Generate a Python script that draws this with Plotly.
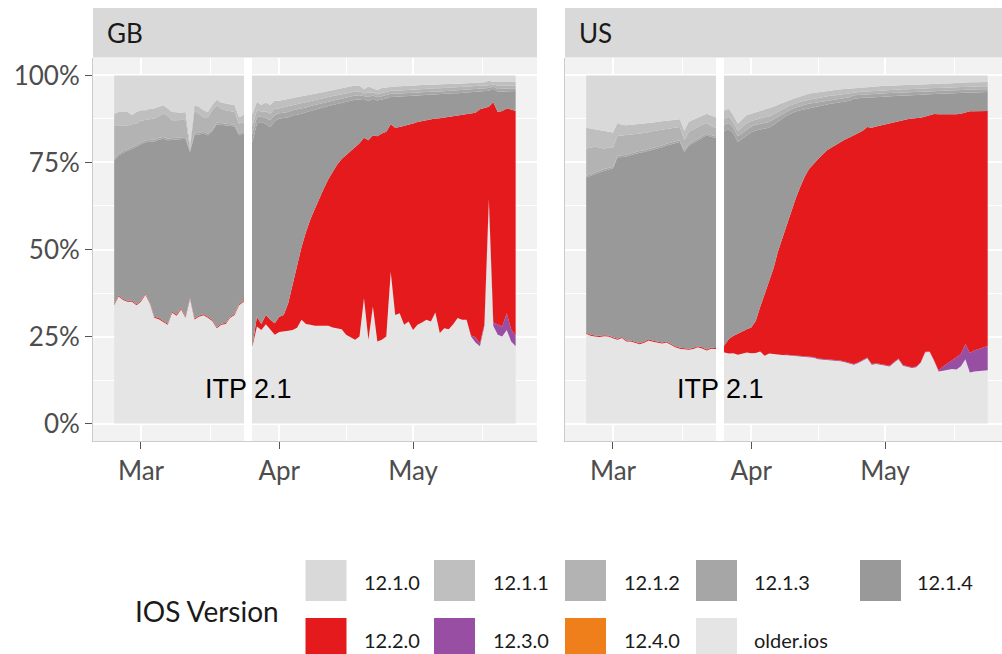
import plotly.graph_objects as go
import pandas as pd

# ---------------- data (share of sessions, %) ----------------
dates = pd.date_range("2019-02-23", "2019-05-24", freq="D")  # 91 days
itp_date = "2019-03-25"

series_names = ["older.ios", "12.4.0", "12.3.0", "12.2.0", "12.1.4", "12.1.3", "12.1.2", "12.1.1", "12.1.0"]
series_colors = ["#e5e5e5", "#ef7f1a", "#984ea3", "#e41a1c", "#999999", "#a6a6a6", "#b3b3b3", "#bfbfbf", "#d9d9d9"]
legend_order = ["12.1.0", "12.1.1", "12.1.2", "12.1.3", "12.1.4", "12.2.0", "12.3.0", "12.4.0", "older.ios"]

gb_older = [34, 36.5, 35.5, 35, 35, 34, 35, 37, 34.5, 30.4,
            30, 29.3, 28.4, 31.8, 31, 32.8, 30.4, 35.8, 29.9, 30.7,
            31.1, 30.4, 29.5, 27.4, 28.4, 28.6, 30.4, 31.2, 34, 35,
            30,
            22.2, 27.9, 26.9, 28.5, 27, 25.5, 26.3, 26.6, 26.7, 26.9,
            27.5, 29.8, 28.6, 28.4, 28.1, 28.1, 28.2, 28.1, 27.6, 27.3,
            27.1, 25.5, 24.8, 24.1, 25, 36, 24.1, 33.6, 23.6, 24.1,
            25, 43.6, 31.2, 31.7, 28.4, 29.3, 26.9, 28.4, 29, 29.8,
            29.3, 31.9, 26, 27.4, 27.1, 28.5, 30.3, 29.8, 29.8, 25,
            23.3, 22.2, 28, 64, 28, 25.5, 25, 26.9, 23.6, 22.2]
gb_v1240 = [0] * 91
gb_v1230 = [0] * 80 + [0.3, 1.5, 0.8, 0.5, 0.6, 1.0, 2.9, 2.9, 4.8, 3.5, 3.0]
gb_v1220 = [0.3] * 30 + [0.5,
            0.3, 2.8, 1.7, 2.7, 2.8, 3.3, 4.4, 4.6, 7.8, 13.0,
            18.1, 20.9, 26.4, 30.3, 33.6, 36.7, 39.3, 42.1, 44.9, 47.1,
            48.9, 51.6, 53.4, 55.3, 55.5, 46.1, 57.3, 49.2, 58.9, 59.2,
            58.8, 42.4, 53.8, 53.5, 57.1, 56.4, 59.3, 58.2, 57.9, 57.3,
            58.1, 55.7, 61.7, 60.5, 61.0, 59.8, 58.2, 58.9, 59.2, 63.8,
            64.5, 67.3, 62.1, 26.4, 63.3, 61.1, 61.9, 58.8, 63.1, 64.6]
gb_v1214 = [41.3, 40.2, 42.0, 43.0, 43.5, 45.2, 44.9, 43.5, 46.2, 50.3,
            51.2, 52.2, 52.7, 49.4, 50.2, 48.7, 51.1, 41.9, 52.6, 52.0,
            51.9, 52.1, 54.2, 58.3, 57.1, 56.6, 54.7, 53.8, 48.5, 48.0,
            52,
            58.4, 55.5, 58.0, 54.8, 55.4, 58.0, 56.9, 56.6, 53.5, 48.6,
            43.1, 38.3, 34.4, 31.1, 28.5, 25.7, 23.4, 21.0, 19.0, 17.4,
            16.2, 15.4, 14.6, 13.6, 12.6, 11.1, 11.2, 10.5, 10.3, 9.7,
            9.6, 7.8, 8.8, 8.7, 8.5, 8.4, 8.0, 7.6, 7.4, 7.3,
            7.1, 7.0, 6.9, 6.8, 6.7, 6.6, 6.4, 6.3, 6.1, 6.1,
            6.0, 5.1, 4.9, 4.6, 3.9, 5.8, 5.6, 5.0, 5.3, 5.7]
gb_v1213 = [0.5] * 30 + [0.8,
            2.4, 1.9, 1.5, 1.8, 1.9, 1.8, 1.5, 1.5, 1.5, 1.5,
            1.5, 1.5, 1.4, 1.4, 1.3, 1.3, 1.3, 1.3, 1.3, 1.2,
            1.2, 1.2, 1.2, 1.2, 1.2, 0.8, 1.2, 0.9, 0.9, 1.0,
            1.0, 0.9, 0.9, 0.9, 0.9, 0.9, 0.9, 0.9, 0.9, 0.9,
            0.8, 0.8, 0.8, 0.8, 0.8, 0.8, 0.8, 0.8, 0.8, 0.8,
            0.8, 0.8, 0.7, 0.8, 0.6, 0.8, 0.8, 0.8, 0.8, 0.8]
gb_v1212 = [9.6, 8.2, 7.4, 6.8, 6.7, 6.2, 6.3, 5.9, 6.1, 6.1,
            6.3, 6.7, 6.6, 5.1, 5.1, 4.8, 5.0, 0.5, 6.7, 5.5,
            4.2, 4.7, 5.5, 4.9, 4.2, 4.0, 3.9, 3.7, 2.9, 2.7,
            3.5,
            2.4, 1.9, 1.5, 1.8, 1.9, 1.8, 1.5, 1.6, 1.6, 1.5,
            1.5, 1.5, 1.4, 1.4, 1.4, 1.4, 1.3, 1.3, 1.3, 1.3,
            1.2, 1.2, 1.2, 1.2, 1.1, 0.8, 1.3, 0.9, 0.9, 1.0,
            0.9, 0.9, 0.9, 0.9, 0.9, 0.9, 0.9, 0.9, 0.9, 0.9,
            0.9, 0.9, 0.9, 0.9, 0.8, 0.8, 0.8, 0.8, 0.8, 0.8,
            0.8, 0.8, 0.8, 0.9, 0.6, 0.9, 0.8, 0.8, 0.8, 0.8]
gb_v1211 = [3.3, 3.8, 3.8, 3.9, 2.6, 3.3, 3.0, 2.8, 2.8, 2.9,
            2.7, 2.4, 2.0, 2.4, 2.3, 2.2, 2.2, 1.5, 1.4, 2.0,
            2.0, 1.5, 1.5, 1.6, 1.7, 2.0, 1.9, 1.9, 1.8, 2.1,
            2.5,
            3.3, 2.4, 1.9, 2.6, 2.5, 2.4, 2.1, 2.1, 2.1, 2.0,
            2.0, 2.0, 2.0, 1.8, 1.8, 1.8, 1.7, 1.7, 1.7, 1.7,
            1.7, 1.7, 1.6, 1.7, 1.6, 1.2, 1.7, 1.1, 1.2, 1.4,
            1.3, 1.2, 1.2, 1.2, 1.2, 1.1, 1.1, 1.1, 1.1, 1.1,
            1.1, 1.1, 1.1, 1.1, 1.1, 1.1, 1.1, 1.1, 1.0, 1.0,
            1.0, 1.0, 1.0, 1.2, 0.7, 1.1, 1.1, 1.0, 1.0, 1.0]
gb_v1210 = [11.0, 10.5, 10.5, 10.5, 11.4, 10.5, 10.0, 10.0, 9.6, 9.5,
            9.0, 8.6, 9.5, 10.5, 10.6, 10.7, 10.5, 19.5, 8.6, 9.0,
            10.0, 10.5, 8.5, 7.0, 7.8, 8.0, 8.3, 8.6, 12.0, 11.4,
            10.7,
            11.0, 7.6, 8.5, 7.8, 8.5, 7.2, 7.3, 7.0, 6.8, 6.5,
            6.3, 6.0, 5.8, 5.6, 5.3, 5.0, 4.8, 4.5, 4.2, 4.0,
            3.7, 3.4, 3.2, 2.9, 3.0, 4.0, 3.2, 3.8, 4.2, 3.6,
            3.4, 3.2, 3.2, 3.1, 3.0, 3.0, 2.9, 2.9, 2.8, 2.7,
            2.7, 2.6, 2.6, 2.5, 2.5, 2.4, 2.4, 2.3, 2.3, 2.2,
            2.1, 2.0, 2.0, 1.5, 1.9, 1.9, 1.9, 1.9, 1.9, 1.9]

us_older = [25.8, 25.2, 25.0, 24.9, 25.1, 25.0, 24.5, 24.1, 24.6, 23.6,
            23.6, 23.3, 22.8, 23.2, 23.9, 23.5, 23.3, 23.0, 23.3, 22.5,
            21.9, 21.5, 21.3, 21.2, 21.4, 21.9, 21.6, 21.0, 21.5, 21.4,
            21.0,
            20.4, 20.1, 20.2, 19.8, 20.1, 20.4, 20.2, 20.3, 20.7, 19.5,
            20.1, 19.9, 19.8, 19.7, 19.6, 19.5, 19.4, 19.3, 19.3, 19.2,
            18.9, 18.5, 18.4, 18.3, 18.2, 18.1, 17.9, 17.6, 17.2, 16.9,
            17.4, 18.2, 18.8, 16.9, 17.1, 16.9, 16.7, 16.4, 17.5, 18.5,
            16.6, 16.3, 16.0, 16.2, 17.5, 20.5, 20.6, 18.0, 15.0, 15.2,
            15.4, 15.7, 15.6, 16.5, 18.5, 14.7, 15.0, 15.1, 15.2, 15.3]
us_v1240 = [0] * 91
us_v1230 = [0] * 45 + [0.2] * 34 + [0.3, 1.2, 2.0, 2.6, 3.5, 3.5, 4.4, 5.6, 6.0, 6.3, 6.7, 7.0]
us_v1220 = [0.3] * 30 + [1.0,
            2.1, 4.2, 5.0, 6.0, 6.4, 6.7, 7.4, 9.2, 12.8, 17.5,
            20.9, 24.7, 29.7, 33.8, 37.7, 41.5, 45.2, 48.5, 51.5, 53.8,
            55.6, 57.3, 58.7, 60.0, 60.9, 61.8, 62.8, 63.8, 64.8, 65.7,
            65.9, 65.6, 66.2, 67.9, 68.0, 68.5, 69.1, 69.8, 69.0, 68.4,
            70.5, 71.0, 71.5, 71.5, 70.3, 67.7, 68.0, 71.0, 73.8, 72.6,
            71.6, 70.7, 70.0, 69.2, 66.6, 69.5, 68.8, 68.4, 67.9, 67.5]
us_v1214 = [44.6, 45.7, 46.5, 47.0, 47.2, 47.6, 48.5, 52.0, 51.6, 52.8,
            53.2, 53.9, 54.7, 54.5, 54.1, 54.9, 55.4, 56.1, 56.3, 57.4,
            58.4, 59.1, 56.4, 58.3, 58.9, 59.2, 60.1, 61.5, 60.6, 60.3,
            60.5,
            61.7, 60.2, 58.1, 55.1, 55.3, 55.7, 56.1, 54.7, 50.9, 47.6,
            44.0, 41.2, 37.1, 34.1, 31.0, 27.9, 24.8, 22.0, 19.3, 17.4,
            16.2, 15.1, 14.1, 13.2, 12.6, 12.0, 11.4, 10.9, 10.5, 10.5,
            9.9, 9.5, 8.4, 8.7, 8.5, 8.3, 7.9, 7.6, 7.4, 7.1,
            6.9, 6.8, 6.7, 6.6, 6.6, 6.3, 6.0, 5.7, 5.9, 6.0,
            6.1, 6.1, 6.1, 6.0, 5.7, 5.4, 5.4, 5.4, 5.4, 5.4]
us_v1213 = [0.5] * 30 + [0.8,
            1.7, 1.8, 1.6, 1.6, 1.7, 1.7, 1.6, 1.6, 1.6, 1.7,
            1.6, 1.6, 1.5, 1.4, 1.2, 1.2, 1.2, 1.2, 1.2, 1.3,
            1.2, 1.2, 1.2, 1.2, 1.2, 1.1, 1.1, 1.1, 1.0, 1.0,
            0.9, 0.9, 0.9, 0.9, 0.9, 0.9, 0.9, 0.9, 0.9, 0.9,
            0.9, 0.9, 0.9, 0.9, 0.9, 0.9, 0.9, 0.9, 0.8, 0.8,
            0.8, 0.8, 0.8, 0.8, 0.8, 0.8, 0.8, 0.8, 0.8, 0.8]
us_v1212 = [7.8, 7.6, 7.2, 6.6, 5.9, 5.8, 5.5, 5.7, 5.8, 5.8,
            5.5, 5.2, 5.0, 4.9, 4.9, 4.8, 4.7, 4.5, 4.2, 4.1,
            3.9, 3.8, 2.9, 3.5, 3.4, 3.3, 3.3, 3.0, 2.6, 2.5,
            2.5,
            1.8, 1.8, 1.5, 1.6, 1.7, 1.8, 1.6, 1.5, 1.6, 1.7,
            1.6, 1.5, 1.5, 1.4, 1.2, 1.2, 1.2, 1.2, 1.2, 1.2,
            1.2, 1.2, 1.2, 1.1, 1.1, 1.1, 1.1, 1.1, 1.1, 0.9] + [0.9] * 30
us_v1211 = [6.0, 5.5, 5.0, 5.0, 5.0, 4.6, 4.3, 3.7, 3.0, 2.7,
            2.7, 2.8, 2.8, 2.8, 2.6, 2.5, 2.5, 2.5, 2.5, 2.4,
            2.3, 2.2, 2.7, 2.9, 2.8, 2.6, 2.5, 2.7, 3.0, 3.0,
            3.0,
            2.3, 2.3, 2.1, 2.1, 2.3, 2.3, 2.1, 2.1, 2.2, 2.2,
            2.2, 2.1, 2.0, 1.8, 1.7, 1.6, 1.6, 1.7, 1.7, 1.7,
            1.7, 1.7, 1.6, 1.6, 1.6, 1.6, 1.5, 1.4, 1.4, 1.3,
            1.3, 1.3, 1.3, 1.3, 1.3, 1.2, 1.2, 1.2, 1.2, 1.2] + [1.2] * 20
us_v1210 = [15.0, 15.2, 15.5, 15.7, 16.0, 16.2, 16.4, 13.7, 14.2, 14.3,
            14.2, 14.0, 13.9, 13.8, 13.7, 13.5, 13.3, 13.1, 12.9, 12.8,
            12.7, 12.6, 15.9, 13.3, 12.7, 12.2, 11.7, 11.0, 11.5, 12.0,
            11.2,
            10.0, 9.6, 11.5, 13.8, 12.5, 11.4, 11.0, 10.6, 10.2, 9.8,
            9.6, 9.0, 8.4, 7.8, 7.4, 6.9, 6.4, 5.9, 5.6, 5.2,
            5.0, 4.8, 4.6, 4.4, 4.2, 4.1, 4.0, 3.9, 3.8, 3.5,
            3.4, 3.3, 3.3, 3.2, 3.1, 3.1, 3.0, 3.0, 2.9, 2.9,
            2.8, 2.8, 2.7, 2.7, 2.6, 2.5, 2.5, 2.4, 2.4, 2.3,
            2.3, 2.2, 2.2, 2.1, 2.1, 2.0, 2.0, 1.9, 1.9, 1.9]

y_tick_vals = [0, 25, 50, 75, 100]
y_tick_text = ["0%", "25%", "50%", "75%", "100%"]
x_tick_vals = ["2019-03-01", "2019-04-01", "2019-05-01"]
x_tick_text = ["Mar", "Apr", "May"]
x_minor_vals = ["2019-03-16 12:00", "2019-04-16", "2019-05-16 12:00"]

countries = {
    "GB": [gb_older, gb_v1240, gb_v1230, gb_v1220, gb_v1214, gb_v1213, gb_v1212, gb_v1211, gb_v1210],
    "US": [us_older, us_v1240, us_v1230, us_v1220, us_v1214, us_v1213, us_v1212, us_v1211, us_v1210],
}

# ---------------- layout geometry (pixels) ----------------
W, H = 1002, 654
ML, MT, MB = 93, 58, 213
PW, PH = W - ML, H - MT - MB


def px_x(p):
    return (p - ML) / PW


def px_y(p):
    return (H - MB - p) / PH


fig = go.Figure()
axes = {"GB": ("x", "y"), "US": ("x2", "y2")}
for country, vals in countries.items():
    xa, ya = axes[country]
    for k, (name, col, v) in enumerate(zip(series_names, series_colors, vals)):
        fig.add_trace(go.Scatter(
            x=dates, y=v, name=name, mode="lines",
            line=dict(width=0, color=col), fillcolor=col,
            stackgroup=country, groupnorm="percent" if k == 0 else None,
            xaxis=xa, yaxis=ya, showlegend=False, hoverinfo="skip",
        ))

font_main = "Lato, 'Open Sans', sans-serif"
common_x = dict(
    type="date", tickvals=x_tick_vals, ticktext=x_tick_text,
    showgrid=True, gridcolor="white", gridwidth=1.6,
    minor=dict(tickvals=x_minor_vals, showgrid=True, gridcolor="white", gridwidth=0.8),
    showline=True, linecolor="#cccccc", linewidth=1,
    ticks="outside", ticklen=7, tickcolor="#555555",
    tickfont=dict(family=font_main, size=26, color="#4d4d4d"),
    zeroline=False, fixedrange=True,
)
common_y = dict(
    range=[-5, 105], tickvals=y_tick_vals, ticktext=y_tick_text,
    showgrid=True, gridcolor="white", gridwidth=1.6,
    minor=dict(tickvals=[12.5, 37.5, 62.5, 87.5], showgrid=True, gridcolor="white", gridwidth=0.8),
    showline=True, linecolor="#cccccc", linewidth=1,
    zeroline=False, fixedrange=True,
)

gb_w = 444
fig.update_layout(
    width=W, height=H,
    margin=dict(l=ML, r=0, t=MT, b=MB, pad=0),
    paper_bgcolor="white", plot_bgcolor="#f2f2f2",
    showlegend=False,
    xaxis=dict(common_x, domain=[0, gb_w / PW],
               range=["2019-02-18 06:00", "2019-05-28 19:00"]),
    xaxis2=dict(common_x, domain=[px_x(565), 1],
                range=["2019-02-18 06:00", "2019-05-27 05:00"]),
    yaxis=dict(common_y, domain=[0, 1], anchor="x",
               ticks="outside", ticklen=7, tickcolor="#555555",
               tickfont=dict(family=font_main, size=26, color="#4d4d4d")),
    yaxis2=dict(common_y, domain=[0, 1], anchor="x2", showticklabels=False, ticks=""),
)

shapes = []
annotations = []
# facet strips
for country, (x0p, x1p) in {"GB": (93, 537), "US": (565, 1010)}.items():
    shapes.append(dict(type="rect", xref="paper", yref="paper",
                       x0=px_x(x0p), x1=min(px_x(x1p), 1.02), y0=px_y(57.5), y1=px_y(8),
                       fillcolor="#d9d9d9", line=dict(width=0), layer="below"))
    annotations.append(dict(xref="paper", yref="paper", x=px_x(x0p + 12), y=px_y(33),
                            text=country, showarrow=False, xanchor="left", yanchor="middle",
                            font=dict(family=font_main, size=26, color="#1a1a1a")))

# ITP 2.1 marker line and label in both panels
for xa, ya in [("x", "y"), ("x2", "y2")]:
    shapes.append(dict(type="line", xref=xa, yref=ya + " domain", x0=itp_date, x1=itp_date,
                       y0=0, y1=1, line=dict(color="white", width=8), layer="above"))
    annotations.append(dict(xref=xa, yref=ya, x=itp_date, y=10, text="ITP 2.1",
                            showarrow=False, xanchor="center", yanchor="middle",
                            font=dict(family="'Liberation Sans', Arial, sans-serif", size=27, color="black")))

# legend (drawn manually, ggplot style 2 rows x 5 columns)
color_of = dict(zip(series_names, series_colors))
key_lefts = [305.5, 434, 565, 696, 860]
label_lefts = [361.5, 491, 621.5, 752, 915]
row_tops = [560, 618]
for idx, name in enumerate(legend_order):
    r, c = divmod(idx, 5)
    top = row_tops[r]
    shapes.append(dict(type="rect", xref="paper", yref="paper",
                       x0=px_x(key_lefts[c]), x1=px_x(key_lefts[c] + 41),
                       y0=px_y(top + 41), y1=px_y(top),
                       fillcolor=color_of[name], line=dict(width=0)))
    annotations.append(dict(xref="paper", yref="paper", x=px_x(label_lefts[c]), y=px_y(top + 22),
                            text=name, showarrow=False, xanchor="left", yanchor="middle",
                            font=dict(family=font_main, size=20, color="#1a1a1a")))
annotations.append(dict(xref="paper", yref="paper", x=px_x(133), y=px_y(611),
                        text="IOS Version", showarrow=False, xanchor="left", yanchor="middle",
                        font=dict(family=font_main, size=28, color="#1a1a1a")))

fig.update_layout(shapes=shapes, annotations=annotations)
fig.write_html("out.html", config={"displayModeBar": False},
               post_script="document.body.style.margin='0';document.body.style.overflow='hidden';")
